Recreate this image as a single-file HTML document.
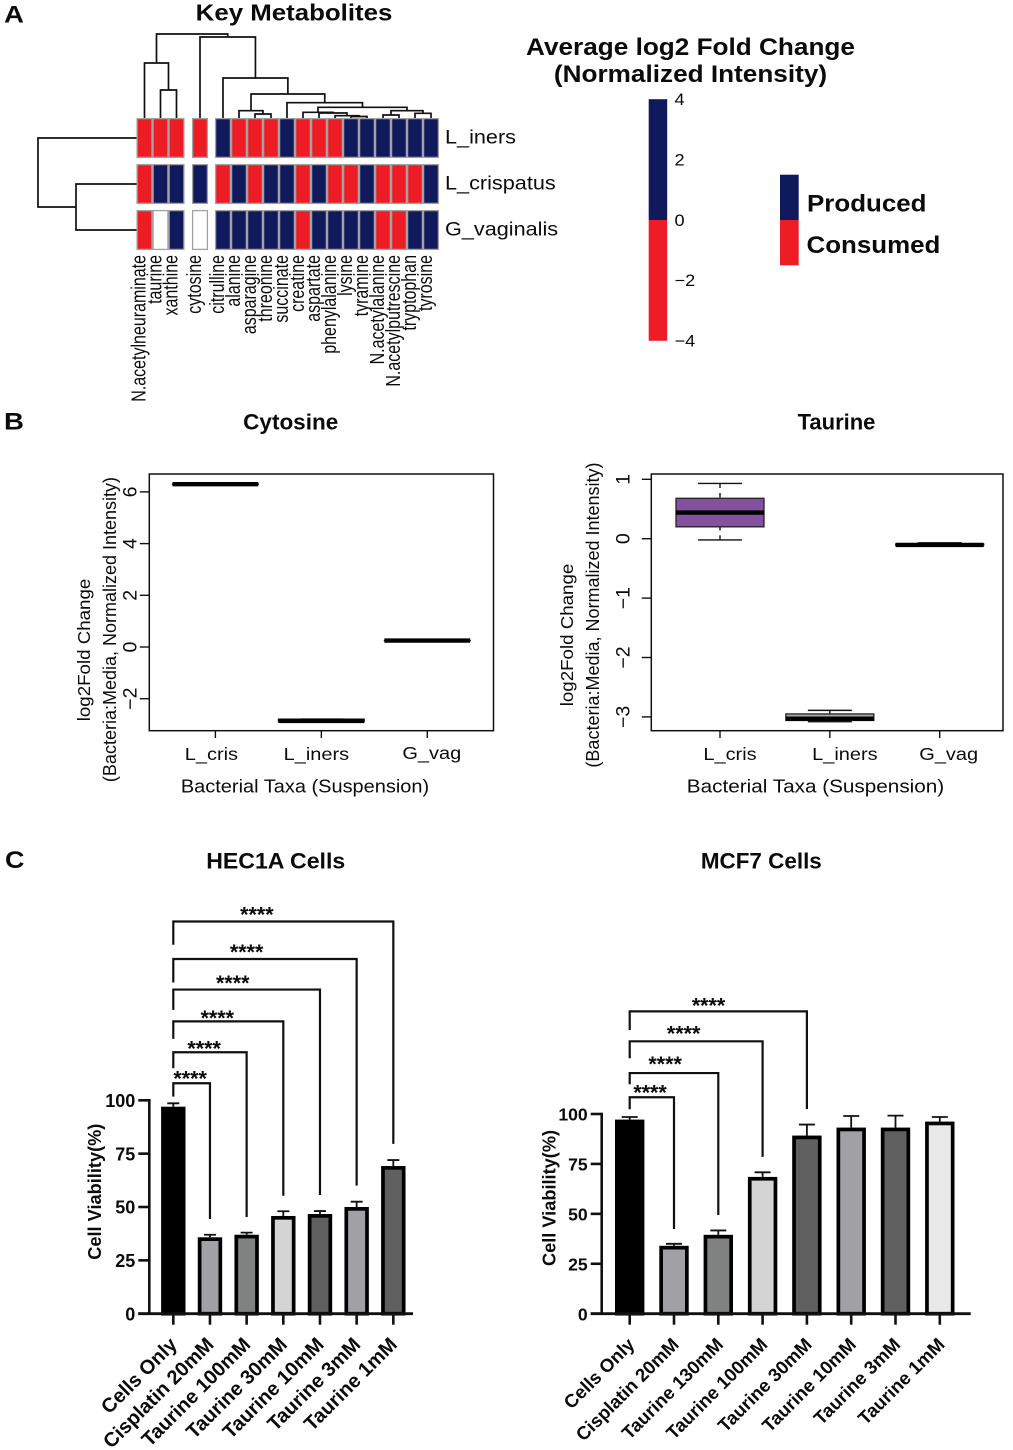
<!DOCTYPE html>
<html lang="en">
<head>
<meta charset="utf-8">
<title>Key Metabolites Figure</title>
<style>
html,body{margin:0;padding:0;background:#fff;width:1013px;height:1450px;overflow:hidden}
svg{display:block}
text{font-family:"Liberation Sans",Arial,sans-serif;fill:#0b0b0b}
.b{font-weight:bold}
</style>
</head>
<body>
<svg id="figure" xmlns="http://www.w3.org/2000/svg" width="1013" height="1450" viewBox="0 0 1013 1450">
<rect x="0" y="0" width="1013" height="1450" fill="#fff"/>

<text class="b" font-size="24" transform="translate(4 22.7) scale(1.15 1)">A</text>
<text class="b" font-size="24" transform="translate(4 429.5) scale(1.15 1)">B</text>
<text class="b" font-size="24" transform="translate(5 868) scale(1.12 1)">C</text>

<text class="b" font-size="23.5" text-anchor="middle" transform="translate(294 20.5) scale(1.1 1)">Key Metabolites</text>
<text class="b" font-size="24" text-anchor="middle" transform="translate(690.5 54.8) scale(1.09 1)">Average log2 Fold Change</text>
<text class="b" font-size="24" text-anchor="middle" transform="translate(690.5 82.2) scale(1.09 1)">(Normalized Intensity)</text>

<g>
<rect x="780" y="174.7" width="18.7" height="45.3" fill="#10195c"/>
<rect x="780" y="220" width="18.7" height="45.3" fill="#ee1c25"/>
<text class="b" font-size="24" transform="translate(807 211.5) scale(1.08 1)">Produced</text>
<text class="b" font-size="24" transform="translate(806.5 253.2) scale(1.08 1)">Consumed</text>
</g>

<text class="b" font-size="22.5" text-anchor="middle" transform="translate(290.7 429.5) scale(1 1)">Cytosine</text>
<text class="b" font-size="22" text-anchor="middle" transform="translate(836.5 429.5) scale(1 1)">Taurine</text>

<text font-size="18.5" text-anchor="middle" transform="translate(305 792.5) scale(1.08 1)">Bacterial Taxa (Suspension)</text>
<text font-size="18.5" text-anchor="middle" transform="translate(815.5 792.5) scale(1.12 1)">Bacterial Taxa (Suspension)</text>
<text font-size="18" text-anchor="middle" transform="translate(90 650) rotate(-90) scale(1.04 1)">log2Fold Change</text>
<text font-size="18" text-anchor="middle" transform="translate(116 629.5) rotate(-90)">(Bacteria:Media, Normalized Intensity)</text>
<text font-size="18" text-anchor="middle" transform="translate(573 635) rotate(-90) scale(1.04 1)">log2Fold Change</text>
<text font-size="18" text-anchor="middle" transform="translate(599 615) rotate(-90)">(Bacteria:Media, Normalized Intensity)</text>

<text class="b" font-size="22" text-anchor="middle" transform="translate(275.7 868.3) scale(1.05 1)">HEC1A Cells</text>
<text class="b" font-size="22" text-anchor="middle" transform="translate(761.3 868.3) scale(1.02 1)">MCF7 Cells</text>
<text class="b" font-size="18.2" text-anchor="middle" transform="translate(101 1191.7) rotate(-90)">Cell Viability(%)</text>
<text class="b" font-size="18.2" text-anchor="middle" transform="translate(555.5 1198) rotate(-90)">Cell Viability(%)</text>
</svg>

<script>
/* ---------- Panel A data ---------- */
const metabolites = ['N.acetylneuraminate','taurine','xanthine','cytosine','citrulline','alanine','asparagine','threonine','succinate','creatine','aspartate','phenylalanine','lysine','tyramine','N.acetylalanine','N.acetylputrescine','tryptophan','tyrosine'];
const taxa = ['L_iners','L_crispatus','G_vaginalis'];
const foldInersSign = [-1,-1,-1,-1,1,-1,-1,-1,1,-1,-1,-1,1,1,1,1,1,1];
const foldCrispatusSign = [-1,1,1,1,-1,1,-1,1,1,-1,1,-1,-1,1,-1,-1,-1,1];
const foldVaginalisSign = [-1,null,1,null,1,1,1,1,1,-1,1,1,1,1,-1,-1,1,1];
const columnTree =
  [84,
    [55, 0, [28, 1, 2]],
    [81, 3,
      [40, 4,
        [24,
          [7.3, 5, [4, 6, 7]],
          [15.3, 8,
            [10.7,
              [5.7, 9, [5, 10, [2.3, 11, [1.5, 12, 13]]]],
              [7.3, [3, 14, 15], [4.7, 16, 17]]
            ]
          ]
        ]
      ]
    ]
  ];
const rowTree = [98.5, 0, [60.5, 1, 2]];
const colorbarTicks = [4,2,0,-2,-4];
const colorbarRange = [-4,0,4];

/* ---------- Panel B data ---------- */
const boxCategories = ['L_cris','L_iners','G_vag'];
const cytosineLow = [6.3,-2.88,0.25];
const cytosineQ1 = [6.3,-2.88,0.25];
const cytosineMedian = [6.3,-2.86,0.25];
const cytosineQ3 = [6.3,-2.79,0.25];
const cytosineHigh = [6.3,-2.79,0.25];
const cytosineTicks = [-2,0,2,4,6];
const taurineLow = [-0.02,-3.08,-0.11];
const taurineQ1 = [0.2,-3.06,-0.11];
const taurineMedian = [0.44,-3.03,-0.105];
const taurineQ3 = [0.68,-2.95,-0.09];
const taurineHigh = [0.93,-2.89,-0.07];
const taurineTicks = [-3,-2,-1,0,1];

/* ---------- Panel C data ---------- */
const hecCategories = ['Cells Only','Cisplatin 20mM','Taurine 100mM','Taurine 30mM','Taurine 10mM','Taurine 3mM','Taurine 1mM'];
const hecValues = [97,35.8,37,45.8,46.7,50,69.2];
const hecErrorTops = [98.6,37,38,48,48.1,52.5,72];
const hecBracketTops = [108,122.5,137,151.9,166.2,183.8];
const hecBracketLeft = [101.7,115,128.8,142.4,155.2,172.9];
const hecBracketRight = [44.4,45.3,55.3,55.6,60,79.6];
const mcfCategories = ['Cells Only','Cisplatin 20mM','Taurine 130mM','Taurine 100mM','Taurine 30mM','Taurine 10mM','Taurine 3mM','Taurine 1mM'];
const mcfValues = [97.2,34,39.5,68.5,89.2,93.2,93.2,96.2];
const mcfErrorTops = [98.5,35,41.7,70.8,94.7,99,99.2,98.5];
const mcfBracketTops = [108.4,120.5,136.4,151.4];
const mcfBracketLeft = [102.4,114.9,127.9,142];
const mcfBracketRight = [42.4,49.4,78.5,102.5];
const viabilityTicks = [0,25,50,75,100];
const significanceLabel = '****';

/* ---------- Helpers ---------- */
const NS = 'http://www.w3.org/2000/svg';
const figureRoot = document.getElementById('figure');
const NAVY = '#10195c', RED = '#ee1c25';
function mk(parent, tag, attrs, text) {
  const e = document.createElementNS(NS, tag);
  for (const k in attrs) e.setAttribute(k, attrs[k]);
  if (text !== undefined) e.textContent = text;
  parent.appendChild(e);
  return e;
}
function place(x, y, rot, sx) { return 'translate(' + x + ' ' + y + ') rotate(' + rot + ') scale(' + sx + ' 1)'; }
function slug(s) { return String(s).toLowerCase().replace(/[^a-z0-9]+/g, '-').replace(/^-|-$/g, ''); }

/* ---------- Panel A: heatmap ---------- */
const heatRows = [foldInersSign, foldCrispatusSign, foldVaginalisSign];
const CELL = 16, HEAT_LEFT = 136.5, HEAT_TOP = 118, ROW_STEP = 46, ROW_H = 40;
function colLeft(i) { return HEAT_LEFT + CELL * i + (i >= 3 ? 7.5 : 0) + (i >= 4 ? 7 : 0); }
function colCenter(i) { return colLeft(i) + CELL / 2; }
function rowCenter(i) { return HEAT_TOP + ROW_STEP * i + ROW_H / 2; }
function heatColor(v) { return v === null ? '#fff' : (v > 0 ? NAVY : RED); }

const heatGroup = mk(figureRoot, 'g', {});


heatRows.forEach(function (row, r) {
  row.forEach(function (v, c) {
    const cell = mk(heatGroup, 'rect', {x: colLeft(c) + 0.6, y: HEAT_TOP + ROW_STEP * r + 0.6, width: CELL - 1.2, height: ROW_H - 1.2, fill: heatColor(v), stroke: '#a2a2a2', 'stroke-width': 1.3});
    
    
  });
});
taxa.forEach(function (t, r) {
  const label = mk(figureRoot, 'text', {'font-size': 19, transform: place(445, rowCenter(r) + 5.5, 0, 1.14)}, t);
  
  
});
metabolites.forEach(function (m, c) {
  const label = mk(figureRoot, 'text', {'font-size': 20, 'text-anchor': 'end', transform: place(colCenter(c) + 0.8, 255, -90, 0.8)}, m);
  
  
});

function drawColumnNode(node) {
  if (typeof node === 'number') return {x: colCenter(node), y: HEAT_TOP};
  const a = drawColumnNode(node[1]), b = drawColumnNode(node[2]);
  const y = HEAT_TOP - node[0];
  const branch = mk(figureRoot, 'path', {d: 'M' + a.x + ' ' + a.y + 'V' + y + 'H' + b.x + 'V' + b.y, fill: 'none', stroke: '#111', 'stroke-width': 1.7});
  
  
  return {x: (a.x + b.x) / 2, y: y};
}
drawColumnNode(columnTree);
function drawRowNode(node) {
  if (typeof node === 'number') return {x: HEAT_LEFT, y: rowCenter(node)};
  const a = drawRowNode(node[1]), b = drawRowNode(node[2]);
  const x = HEAT_LEFT - node[0];
  const branch = mk(figureRoot, 'path', {d: 'M' + a.x + ' ' + a.y + 'H' + x + 'V' + b.y + 'H' + b.x, fill: 'none', stroke: '#111', 'stroke-width': 1.7});
  
  
  return {x: x, y: (a.y + b.y) / 2};
}
drawRowNode(rowTree);

/* Colour bar */
function colorbarY(v) { return 220 - v * 30.2; }
const barBlue = mk(figureRoot, 'rect', {x: 648.7, y: colorbarY(colorbarRange[2]), width: 18.5, height: colorbarY(colorbarRange[1]) - colorbarY(colorbarRange[2]), fill: NAVY});


const barRed = mk(figureRoot, 'rect', {x: 648.7, y: colorbarY(colorbarRange[1]), width: 18.5, height: colorbarY(colorbarRange[0]) - colorbarY(colorbarRange[1]), fill: RED});


colorbarTicks.forEach(function (t) {
  const label = mk(figureRoot, 'text', {'font-size': 16.5, transform: place(674.5, colorbarY(t) + 5.8, 0, 1.1)}, String(t).replace('-', '\u2212'));
  
  
});

/* ---------- Panel B: box plots ---------- */
function drawBoxPlot(cfg) {
  const g = mk(figureRoot, 'g', {});
  
  
  const frame = mk(g, 'rect', {x: cfg.left, y: 474, width: cfg.right - cfg.left, height: 256.7, fill: 'none', stroke: '#111', 'stroke-width': 1.5});
  
  
  cfg.yTicks.forEach(function (t) {
    const tick = mk(g, 'line', {x1: cfg.left - 9.5, x2: cfg.left, y1: cfg.y(t), y2: cfg.y(t), stroke: '#111', 'stroke-width': 1.4});
    
    
    const label = mk(g, 'text', {'font-size': 19, 'text-anchor': 'middle', transform: place(cfg.left - cfg.labelGap, cfg.y(t), -90, 1.03)}, String(t).replace('-', '\u2212'));
    
    
  });
  boxCategories.forEach(function (cat, i) {
    const cx = cfg.x(i), hw = cfg.halfWidth, capW = hw * 0.5;
    const tick = mk(g, 'line', {x1: cx, x2: cx, y1: 730.7, y2: 738, stroke: '#111', 'stroke-width': 1.4});
    
    
    const catLabel = mk(g, 'text', {'font-size': 18, 'text-anchor': 'middle', transform: place(cx + cfg.labelShift[i], cfg.labelBase[i], 0, 1.11)}, cat);
    
    
    const yLow = cfg.y(cfg.low[i]), yHigh = cfg.y(cfg.high[i]), yQ1 = cfg.y(cfg.q1[i]), yQ3 = cfg.y(cfg.q3[i]), yMed = cfg.y(cfg.median[i]);
    const caps = mk(g, 'path', {d: 'M' + (cx - capW) + ' ' + yHigh + 'H' + (cx + capW) + 'M' + (cx - capW) + ' ' + yLow + 'H' + (cx + capW), fill: 'none', stroke: '#111', 'stroke-width': 1.4});
    
    
    const stems = mk(g, 'path', {d: 'M' + cx + ' ' + yHigh + 'V' + yQ3 + 'M' + cx + ' ' + yLow + 'V' + yQ1, fill: 'none', stroke: '#111', 'stroke-width': 1.4, 'stroke-dasharray': '4.5 5'});
    
    
    const box = mk(g, 'rect', {x: cx - hw, y: yQ3, width: hw * 2, height: Math.max(0.1, yQ1 - yQ3), fill: cfg.fills[i], stroke: '#222', 'stroke-width': 1.3});
    
    
    const med = mk(g, 'line', {x1: cx - hw, x2: cx + hw, y1: yMed, y2: yMed, stroke: '#000', 'stroke-width': 4.4, 'stroke-linecap': 'butt'});
    
    
  });
}
drawBoxPlot({name: 'cytosine', left: 149.3, right: 493.5, y: function (v) { return 647 - 25.85 * v; }, x: function (i) { return 215.4 + 105.95 * i; },
  halfWidth: 42.9, labelGap: 13, labelShift: [-4, -5, 4.5], labelBase: [760, 760, 759], yTicks: cytosineTicks,
  low: cytosineLow, q1: cytosineQ1, median: cytosineMedian, q3: cytosineQ3, high: cytosineHigh, fills: ['#999', '#aaa', '#999']});
drawBoxPlot({name: 'taurine', left: 651.3, right: 1003, y: function (v) { return 538.7 - 59.4 * v; }, x: function (i) { return 720 + 109.85 * i; },
  halfWidth: 44, labelGap: 22, labelShift: [10, 15, 9], labelBase: [760, 760, 760], yTicks: taurineTicks,
  low: taurineLow, q1: taurineQ1, median: taurineMedian, q3: taurineQ3, high: taurineHigh, fills: ['#8450a0', '#a8a8a8', '#999']});

/* ---------- Panel C: bar charts ---------- */
function drawBars(cfg) {
  const g = mk(figureRoot, 'g', {});
  
  
  const y = cfg.y, x = cfg.x, base = y(0);
  cfg.values.forEach(function (v, i) {
    const cx = x(i), barTop = y(v), sw = 3.7;
    const err = mk(g, 'path', {d: 'M' + (cx - cfg.cap) + ' ' + y(cfg.errors[i]) + 'H' + (cx + cfg.cap) + 'M' + cx + ' ' + y(cfg.errors[i]) + 'V' + barTop, fill: 'none', stroke: '#111', 'stroke-width': 1.8});
    
    
    const bar = mk(g, 'rect', {x: cx - cfg.barWidth / 2 + sw / 2, y: barTop + sw / 2, width: cfg.barWidth - sw, height: Math.max(0, base - barTop - sw / 2), fill: cfg.fills[i], stroke: '#000', 'stroke-width': sw});
    
    
    const tick = mk(g, 'line', {x1: cx, x2: cx, y1: base, y2: base + 11, stroke: '#111', 'stroke-width': 2.6});
    
    
    const label = mk(g, 'text', {'class': 'b', 'font-size': cfg.labelSize, 'text-anchor': 'end', transform: place(cx + cfg.labelDx, base + 32, -45, 1)}, cfg.categories[i]);
    
    
  });
  const xAxis = mk(g, 'line', {x1: cfg.axisX - 11, x2: cfg.axisEnd, y1: base, y2: base, stroke: '#111', 'stroke-width': 2.8});
  
  
  const yAxis = mk(g, 'line', {x1: cfg.axisX, x2: cfg.axisX, y1: y(100) - 1.3, y2: base, stroke: '#111', 'stroke-width': 2.6});
  
  
  viabilityTicks.forEach(function (t) {
    const tick = mk(g, 'line', {x1: cfg.axisX - 11, x2: cfg.axisX, y1: y(t), y2: y(t), stroke: '#111', 'stroke-width': 2.6});
    
    
    const label = mk(g, 'text', {'class': 'b', 'font-size': cfg.tickSize, 'text-anchor': 'end', transform: place(cfg.axisX - 14, y(t) + 6.6, 0, 1)}, t);
    
    
  });
  cfg.tops.forEach(function (topVal, i) {
    const xL = x(0), xR = x(i + 1), yT = y(topVal);
    const bracket = mk(g, 'path', {d: 'M' + xL + ' ' + y(cfg.legLeft[i]) + 'V' + yT + 'H' + xR + 'V' + y(cfg.legRight[i]), fill: 'none', stroke: '#111', 'stroke-width': 2.2});
    
    
    const stars = mk(g, 'text', {'class': 'b', 'font-size': 21.5, 'text-anchor': 'middle', x: xL + (xR - xL) * cfg.starFrac[i], y: yT - cfg.starGap[i] + 9.8}, significanceLabel);
    
    
  });
}
drawBars({name: 'hec1a', categories: hecCategories, values: hecValues, errors: hecErrorTops, tops: hecBracketTops, legLeft: hecBracketLeft, legRight: hecBracketRight,
  y: function (v) { return 1313.7 - 2.134 * v; }, x: function (i) { return 173.3 + 36.67 * i; },
  axisX: 149.3, axisEnd: 413, barWidth: 24.4, cap: 6, tickSize: 18, labelSize: 20, labelDx: 5,
  fills: ['#000', '#a0a0a5', '#808282', '#d4d4d4', '#606060', '#a0a0a5', '#606060'],
  starFrac: [0.46, 0.42, 0.40, 0.405, 0.40, 0.38], starGap: [7.3, 6.6, 6.3, 9.4, 10, 10]});
drawBars({name: 'mcf7', categories: mcfCategories, values: mcfValues, errors: mcfErrorTops, tops: mcfBracketTops, legLeft: mcfBracketLeft, legRight: mcfBracketRight,
  y: function (v) { return 1313.7 - 1.997 * v; }, x: function (i) { return 629.7 + 44.3 * i; },
  axisX: 601.7, axisEnd: 970.7, barWidth: 29.4, cap: 8, tickSize: 17.6, labelSize: 18.6, labelDx: 6,
  fills: ['#000', '#a0a0a5', '#808282', '#d4d4d4', '#606060', '#a0a0a5', '#606060', '#e8e8e8'],
  starFrac: [0.46, 0.40, 0.406, 0.445], starGap: [7.3, 11.7, 10.6, 8.6]});
</script>
</body>
</html>
